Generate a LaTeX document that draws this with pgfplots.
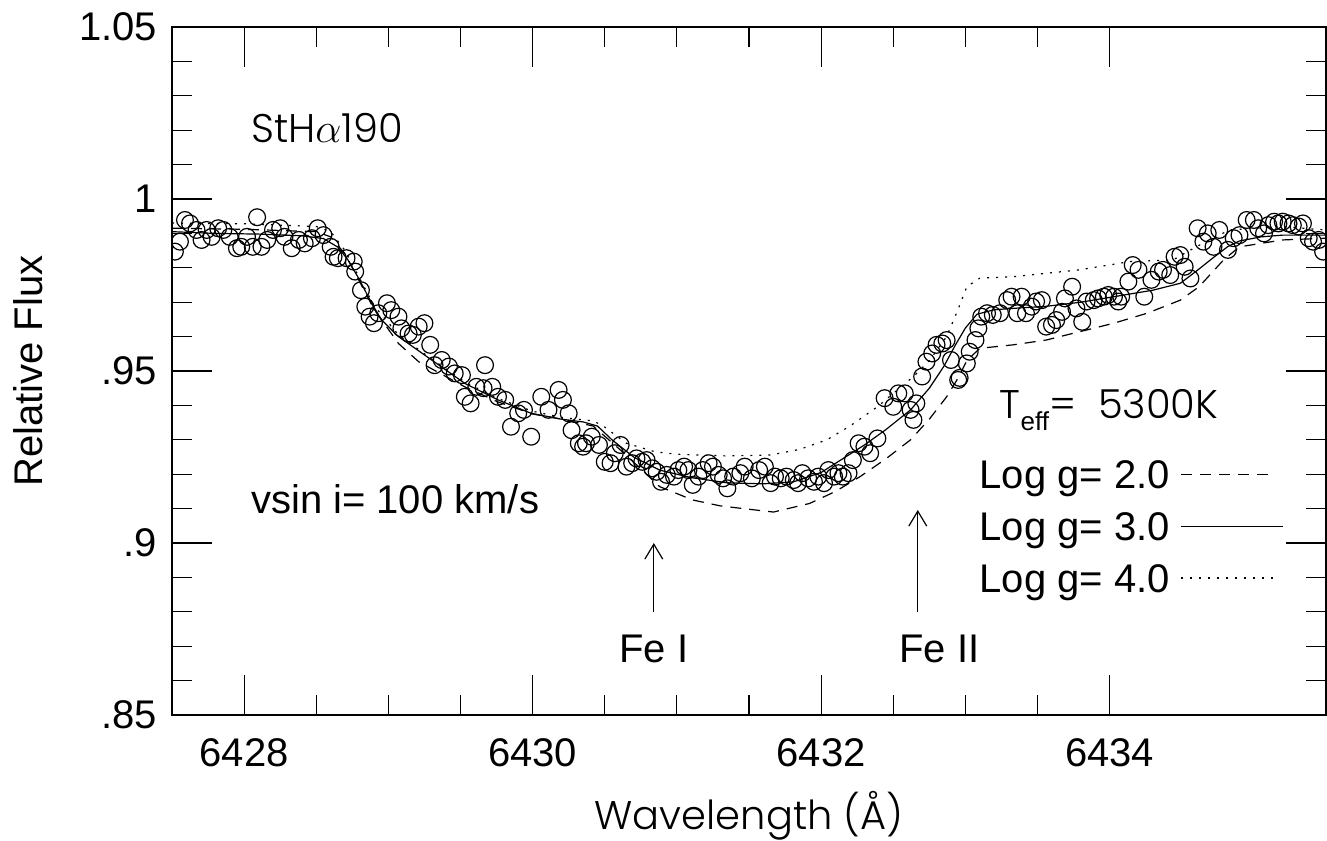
\documentclass[border=0pt]{standalone}
\usepackage{fontspec}
\setmainfont{Liberation Sans}
\newfontfamily\hershey{Poppins Light}
\usepackage{pgfplots}
\pgfplotsset{compat=1.18}
\usetikzlibrary{arrows.meta}

\pgfplotstableread{
w f
6427.52 0.9847
6427.555 0.9876
6427.59 0.9939
6427.625 0.9929
6427.67 0.9910
6427.705 0.9881
6427.74 0.9910
6427.775 0.9890
6427.82 0.9915
6427.856 0.9910
6427.90 0.9890
6427.95 0.9857
6427.98 0.9861
6428.02 0.9890
6428.06 0.9861
6428.09 0.9947
6428.12 0.9861
6428.16 0.9881
6428.20 0.9910
6428.25 0.9915
6428.28 0.9890
6428.33 0.9857
6428.38 0.9881
6428.42 0.9871
6428.47 0.9886
6428.51 0.9915
6428.55 0.9895
6428.60 0.9861
6428.62 0.9832
6428.65 0.9828
6428.71 0.9828
6428.76 0.9818
6428.77 0.9789
6428.81 0.9735
6428.84 0.9687
6428.87 0.9658
6428.90 0.9639
6428.93 0.9668
6428.99 0.9697
6429.02 0.9677
6429.07 0.9658
6429.09 0.9624
6429.14 0.9609
6429.17 0.9605
6429.21 0.9629
6429.25 0.9639
6429.29 0.9576
6429.32 0.9517
6429.37 0.9532
6429.42 0.9513
6429.46 0.9493
6429.51 0.9488
6429.53 0.9425
6429.57 0.9406
6429.61 0.9454
6429.66 0.9450
6429.67 0.9517
6429.72 0.9454
6429.76 0.9425
6429.81 0.9416
6429.85 0.9338
6429.90 0.9377
6429.94 0.9387
6429.99 0.9309
6430.06 0.9425
6430.11 0.9387
6430.18 0.9445
6430.21 0.9416
6430.25 0.9377
6430.27 0.9328
6430.32 0.9290
6430.35 0.9280
6430.37 0.9290
6430.41 0.9309
6430.46 0.9285
6430.50 0.9236
6430.54 0.9232
6430.57 0.9261
6430.61 0.9285
6430.65 0.9222
6430.69 0.9232
6430.72 0.9246
6430.76 0.9236
6430.79 0.9241
6430.83 0.9217
6430.86 0.9207
6430.89 0.9178
6430.93 0.9198
6430.98 0.9193
6431.01 0.9212
6431.05 0.9222
6431.08 0.9212
6431.11 0.9169
6431.15 0.9193
6431.18 0.9212
6431.22 0.9232
6431.25 0.9222
6431.29 0.9198
6431.32 0.9188
6431.35 0.9159
6431.39 0.9193
6431.44 0.9203
6431.47 0.9222
6431.52 0.9188
6431.57 0.9212
6431.61 0.9222
6431.65 0.9174
6431.68 0.9193
6431.72 0.9188
6431.76 0.9193
6431.81 0.9183
6431.84 0.9174
6431.87 0.9203
6431.91 0.9188
6431.95 0.9178
6431.98 0.9193
6432.02 0.9174
6432.05 0.9212
6432.09 0.9193
6432.12 0.9203
6432.15 0.9193
6432.19 0.9203
6432.22 0.9241
6432.26 0.9290
6432.30 0.9280
6432.34 0.9261
6432.39 0.9304
6432.44 0.9421
6432.50 0.9396
6432.535 0.9435
6432.58 0.9435
6432.62 0.9387
6432.64 0.9358
6432.66 0.9406
6432.70 0.9484
6432.73 0.9527
6432.77 0.9551
6432.80 0.9576
6432.84 0.9580
6432.87 0.9590
6432.90 0.9532
6432.95 0.9474
6432.96 0.9480
6433.01 0.9522
6433.03 0.9556
6433.07 0.9590
6433.09 0.9624
6433.11 0.9658
6433.15 0.9668
6433.19 0.9663
6433.24 0.9668
6433.29 0.9706
6433.32 0.9716
6433.36 0.9668
6433.39 0.9716
6433.42 0.9668
6433.46 0.9687
6433.49 0.9702
6433.53 0.9706
6433.56 0.9629
6433.60 0.9634
6433.63 0.9648
6433.67 0.9672
6433.69 0.9711
6433.74 0.9745
6433.77 0.9682
6433.81 0.9643
6433.84 0.9702
6433.89 0.9706
6433.92 0.9711
6433.96 0.9716
6433.99 0.9721
6434.03 0.9716
6434.06 0.9702
6434.08 0.9716
6434.13 0.9760
6434.16 0.9808
6434.20 0.9794
6434.24 0.9716
6434.29 0.9765
6434.34 0.9789
6434.37 0.9794
6434.42 0.9779
6434.45 0.9832
6434.49 0.9837
6434.52 0.9803
6434.56 0.9769
6434.61 0.9915
6434.65 0.9876
6434.68 0.9900
6434.72 0.9861
6434.76 0.9910
6434.82 0.9852
6434.86 0.9886
6434.90 0.9895
6434.95 0.9939
6435.00 0.9939
6435.03 0.9915
6435.07 0.9900
6435.10 0.9924
6435.14 0.9934
6435.17 0.9929
6435.20 0.9934
6435.24 0.9929
6435.27 0.9924
6435.31 0.9920
6435.34 0.9929
6435.38 0.9886
6435.41 0.9876
6435.45 0.9881
6435.48 0.9847
}\observed

% model spectra, log g = 2, 3, 4
\pgfplotstableread{
w f
6427.5 0.9915
6428.0 0.9912
6428.5 0.9905
6428.6 0.9890
6428.7 0.9840
6428.8 0.9760
6428.9 0.9680
6429.07 0.9580
6429.21 0.9527
6429.53 0.9454
6429.76 0.9410
6430.0 0.9375
6430.2 0.9360
6430.42 0.9340
6430.65 0.9255
6430.88 0.9164
6431.11 0.9125
6431.3 0.9108
6431.46 0.9100
6431.67 0.9090
6431.92 0.9115
6432.1 0.9150
6432.27 0.9193
6432.45 0.9245
6432.62 0.9300
6432.75 0.9360
6432.87 0.9425
6432.95 0.9480
6433.01 0.9530
6433.10 0.9566
6433.33 0.9576
6433.56 0.9590
6433.79 0.9614
6434.03 0.9639
6434.26 0.9668
6434.49 0.9706
6434.62 0.9745
6434.79 0.9823
6434.9 0.9861
6435.2 0.9881
6435.5 0.9886
}\loggtwo

\pgfplotstableread{
w f
6427.5 0.9905
6427.8 0.9900
6428.1 0.9898
6428.4 0.9893
6428.55 0.9885
6428.65 0.9860
6428.72 0.9823
6428.8 0.9765
6428.88 0.9700
6428.95 0.9650
6429.07 0.9600
6429.3 0.9532
6429.53 0.9464
6429.76 0.9416
6429.99 0.9377
6430.2 0.9360
6430.35 0.9352
6430.45 0.9340
6430.55 0.9300
6430.7 0.9250
6430.88 0.9212
6431.1 0.9190
6431.35 0.9175
6431.6 0.9172
6431.81 0.9178
6432.0 0.9205
6432.15 0.9245
6432.3 0.9285
6432.45 0.9330
6432.62 0.9387
6432.75 0.9450
6432.85 0.9513
6432.93 0.9575
6433.0 0.9625
6433.08 0.9665
6433.2 0.9678
6433.33 0.9682
6433.56 0.9688
6433.8 0.9700
6434.03 0.9716
6434.3 0.9735
6434.49 0.9755
6434.6 0.9790
6434.72 0.9830
6434.82 0.9862
6434.9 0.9878
6435.05 0.9890
6435.2 0.9895
6435.5 0.9895
}\loggthree

\pgfplotstableread{
w f
6427.5 0.9930
6428.0 0.9928
6428.5 0.9920
6428.6 0.9905
6428.7 0.9850
6428.8 0.9770
6428.9 0.9690
6429.07 0.9605
6429.3 0.9535
6429.53 0.9468
6429.76 0.9420
6430.0 0.9383
6430.2 0.9365
6430.42 0.9355
6430.49 0.9340
6430.65 0.9290
6430.85 0.9265
6431.0 0.9258
6431.35 0.9253
6431.65 0.9256
6431.85 0.9272
6432.04 0.9300
6432.2 0.9340
6432.39 0.9396
6432.64 0.9484
6432.75 0.9530
6432.87 0.9600
6432.95 0.9680
6433.01 0.9745
6433.1 0.9770
6433.33 0.9774
6433.79 0.9794
6434.14 0.9818
6434.44 0.9823
6434.6 0.9861
6434.83 0.9910
6435.18 0.9920
6435.5 0.9910
}\loggfour

\begin{document}
\begin{tikzpicture}[font=\fontsize{20}{24}\selectfont]
\begin{axis}[
    scale only axis, width=577pt, height=344pt,
    xmin=6427.5, xmax=6435.5, ymin=0.85, ymax=1.05,
    xtick={6428,6430,6432,6434}, xticklabels={6428,6430,6432,6434},
    minor x tick num=3,
    ytick={0.85,0.9,0.95,1,1.05}, yticklabels={.85,.9,.95,1,1.05},
    minor y tick num=4,
    tick align=inside,
    major tick length=20pt, minor tick length=10pt,
    every tick/.style={black, line width=0.6pt},
    axis line style={line width=0.8pt},
    xticklabel style={yshift=-8pt},
    yticklabel style={xshift=-4pt},
    xlabel={{\hershey Wavelength (Å)}},
    xlabel style={at={(axis description cs:0.5,-0.1657)}, anchor=base},
    ylabel={Relative Flux},
    ylabel style={at={(axis description cs:-0.1248,0.5)}, anchor=center},
    clip marker paths=true,
]
  \addplot[only marks, mark=o, mark size=4.2pt, mark options={line width=0.6pt}] table {\observed};
  \addplot[line width=0.6pt, dash pattern=on 5.5pt off 4pt] table {\loggtwo};
  \addplot[line width=0.6pt] table {\loggthree};
  \addplot[line width=0.6pt, dash pattern=on 1pt off 3.5pt] table {\loggfour};

  \node[anchor=base west] at (axis cs:6428.0,1.0163) {\hershey StH$\alpha$190};
  \node[anchor=base west] at (axis cs:6428.0,0.9087) {vsin i= 100 km/s};
  \node[anchor=base west] at (axis cs:6433.19,0.9363)
    {\hershey T\raisebox{-0.3em}{\fontsize{13}{13}\selectfont\rmfamily eff}=\ \ 5300K};

  \node[anchor=base west] at (axis cs:6433.05,0.9157) {Log g= 2.0};
  \node[anchor=base west] at (axis cs:6433.05,0.9006) {Log g= 3.0};
  \node[anchor=base west] at (axis cs:6433.05,0.8855) {Log g= 4.0};
  \draw[line width=0.6pt, dash pattern=on 5.5pt off 4pt] (axis cs:6434.495,0.9198) -- (axis cs:6435.13,0.9198);
  \draw[line width=0.6pt] (axis cs:6434.495,0.9047) -- (axis cs:6435.20,0.9047);
  \draw[line width=0.6pt, dash pattern=on 1pt off 3.5pt] (axis cs:6434.495,0.8898) -- (axis cs:6435.18,0.8898);

  \draw[line width=0.6pt, -{Straight Barb[length=7.5pt,width=9pt]}] (axis cs:6430.84,0.880) -- (axis cs:6430.84,0.9000);
  \draw[line width=0.6pt, -{Straight Barb[length=7.5pt,width=9pt]}] (axis cs:6432.67,0.880) -- (axis cs:6432.67,0.9096);
  \node[anchor=base] at (axis cs:6430.84,0.8654) {Fe I};
  \node[anchor=base] at (axis cs:6432.82,0.8654) {Fe II};

  \coordinate (SW) at (rel axis cs:0,0);
  \coordinate (NE) at (rel axis cs:1,1);
\end{axis}
\pgfresetboundingbox
\path ([xshift=-86pt,yshift=-62.5pt]SW) rectangle ([xshift=0.5pt,yshift=13.5pt]NE);
\end{tikzpicture}
\end{document}
